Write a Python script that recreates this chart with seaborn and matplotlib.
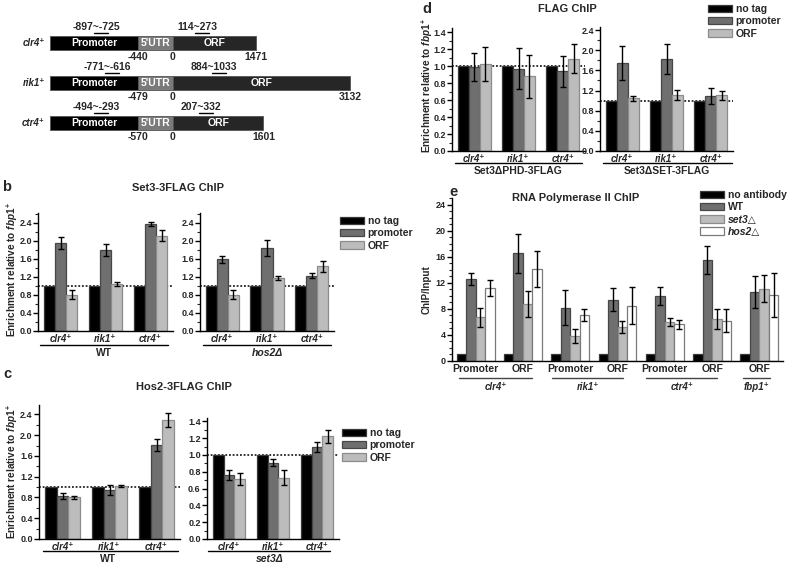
import numpy as np
import pandas as pd
import matplotlib
matplotlib.use("Agg")
import matplotlib.pyplot as plt
import seaborn as sns
from matplotlib.lines import Line2D
from matplotlib.patches import Patch
from matplotlib.ticker import MultipleLocator, FormatStrFormatter

sns.set_theme(style="ticks")
plt.rcParams['font.family'] = ['Liberation Sans', 'DejaVu Sans']
plt.rcParams['font.weight'] = 'bold'
plt.rcParams['mathtext.fontset'] = 'custom'
plt.rcParams['mathtext.it'] = 'Liberation Sans:italic:bold'
plt.rcParams['mathtext.rm'] = 'Liberation Sans:bold'
plt.rcParams['mathtext.bf'] = 'Liberation Sans:bold'

# ---------------- data ----------------
# panel a (gene schematics)
a_genes = ["clr4⁺", "rik1⁺", "ctr4⁺"]
a_utr_start = [-440, -479, -570]
a_orf_len = [1471, 3132, 1601]
a_prom_amp = ["-897~-725", "-771~-616", "-494~-293"]
a_orf_amp = ["114~273", "884~1033", "207~332"]

genes3 = ["clr4⁺", "rik1⁺", "ctr4⁺"]
series3 = ["no tag", "promoter", "ORF"]
notag = [1.0, 1.0, 1.0]

# panel b: Set3-3FLAG ChIP
b_wt_prom = [1.95, 1.80, 2.38]
b_wt_prom_err = [0.13, 0.13, 0.05]
b_wt_orf = [0.80, 1.05, 2.12]
b_wt_orf_err = [0.10, 0.04, 0.13]
b_hos2_prom = [1.59, 1.84, 1.23]
b_hos2_prom_err = [0.08, 0.18, 0.05]
b_hos2_orf = [0.81, 1.18, 1.44]
b_hos2_orf_err = [0.10, 0.05, 0.12]

# panel c: Hos2-3FLAG ChIP
c_wt_prom = [0.83, 0.94, 1.81]
c_wt_prom_err = [0.06, 0.10, 0.11]
c_wt_orf = [0.80, 1.02, 2.29]
c_wt_orf_err = [0.03, 0.02, 0.13]
c_set3_prom = [0.76, 0.91, 1.10]
c_set3_prom_err = [0.06, 0.04, 0.06]
c_set3_orf = [0.71, 0.73, 1.22]
c_set3_orf_err = [0.07, 0.09, 0.08]

# panel d: FLAG ChIP
d_phd_prom = [0.99, 0.97, 0.94]
d_phd_prom_err = [0.17, 0.24, 0.18]
d_phd_orf = [1.03, 0.88, 1.09]
d_phd_orf_err = [0.20, 0.25, 0.17]
d_set_prom = [1.75, 1.83, 1.09]
d_set_prom_err = [0.34, 0.30, 0.16]
d_set_orf = [1.05, 1.11, 1.11]
d_set_orf_err = [0.05, 0.10, 0.09]

# panel e: RNA Polymerase II ChIP
e_cats = ["clr4 Promoter", "clr4 ORF", "rik1 Promoter", "rik1 ORF",
          "ctr4 Promoter", "ctr4 ORF", "fbp1 ORF"]
e_ticklabels = ["Promoter", "ORF", "Promoter", "ORF", "Promoter", "ORF", "ORF"]
e_genes = ["clr4⁺", "rik1⁺", "ctr4⁺", "fbp1⁺"]
e_series = ["no antibody", "WT", "set3△", "hos2△"]
e_noab = [1.0, 1.0, 1.0, 1.0, 1.0, 1.0, 1.0]
e_wt = [12.6, 16.5, 8.2, 9.4, 10.0, 15.5, 10.6]
e_wt_err = [0.9, 3.0, 2.7, 1.8, 1.4, 2.1, 2.4]
e_set3 = [6.7, 8.8, 3.8, 5.2, 6.0, 6.4, 11.1]
e_set3_err = [1.5, 2.0, 1.1, 0.9, 0.6, 1.5, 2.1]
e_hos2 = [11.2, 14.1, 7.1, 8.5, 5.6, 6.2, 10.1]
e_hos2_err = [1.2, 2.7, 0.9, 2.8, 0.7, 1.8, 3.4]

# ---------------- styling ----------------
C_BLACK, C_DARK, C_LIGHT, C_WHITE = "#000000", "#6f6f6f", "#bcbcbc", "#ffffff"
E_BLACK, E_DARK, E_LIGHT, E_WHITE = "#3a3a3a", "#474747", "#8c8c8c", "#7a7a7a"
W, H = 787, 566
fig = plt.figure(figsize=(W / 100, H / 100), dpi=100)


def fx(x):
    return x / W


def fy(y):
    return 1 - y / H


def add_ax(l, t, r, b):
    return fig.add_axes([fx(l), fy(b), (r - l) / W, (b - t) / H])


def hline(x1, x2, y, lw=1.0, color="black"):
    fig.add_artist(Line2D([fx(x1), fx(x2)], [fy(y), fy(y)], color=color, lw=lw))


def ftext(x, y, s, size=7.5, ha="center", va="center", **kw):
    fig.text(fx(x), fy(y), s, fontsize=size, ha=ha, va=va, fontweight="bold", **kw)


def bar_panel(ax, cats, series, vals, errs, colors, edges, width, ylim, major, minor,
              fmt="%.1f", dotted=True, ticklabels=None, tick_italic=True):
    rows = []
    for s, v in zip(series, vals):
        for c, y in zip(cats, v):
            rows.append(dict(cat=c, series=s, val=y))
    df = pd.DataFrame(rows)
    sns.barplot(data=df, x="cat", y="val", hue="series", order=cats, hue_order=series,
                palette=dict(zip(series, colors)), width=width, errorbar=None, ax=ax,
                legend=False, saturation=1, linewidth=0.9, zorder=2)
    for cont, ec, er in zip(ax.containers, edges, errs):
        for bar, e in zip(cont, er):
            bar.set_edgecolor(ec)
            if e:
                ax.errorbar(bar.get_x() + bar.get_width() / 2, bar.get_height(), yerr=e,
                            color="black", capsize=2.5, elinewidth=1.0, capthick=1.0,
                            zorder=3)
    if dotted:
        ax.axhline(1.0, ls=(0, (1.2, 1.2)), color="black", lw=1.1, zorder=1)
    ax.set_xlim(-0.5, len(cats) - 0.5)
    ax.set_ylim(*ylim)
    ax.yaxis.set_major_locator(MultipleLocator(major))
    ax.yaxis.set_minor_locator(MultipleLocator(minor))
    ax.yaxis.set_major_formatter(FormatStrFormatter(fmt))
    for sp in ["top", "right"]:
        ax.spines[sp].set_visible(False)
    for sp in ["left", "bottom"]:
        ax.spines[sp].set_linewidth(1.0)
        ax.spines[sp].set_color("black")
    ax.tick_params(axis="y", which="major", length=3.5, width=1.0, labelsize=6.5, pad=1,
                   direction="out", color="black")
    ax.tick_params(axis="y", which="minor", length=2, width=0.8, direction="out", left=True)
    ax.tick_params(axis="x", length=0, pad=2)
    ax.set_xlabel("")
    ax.set_ylabel("")
    ax.set_facecolor("none")
    labs = ticklabels if ticklabels is not None else cats
    ax.set_xticks(range(len(cats)))
    ax.set_xticklabels(labs, fontsize=7, fontweight="bold",
                       fontstyle="italic" if tick_italic else "normal")
    for t in ax.get_yticklabels():
        t.set_fontweight("bold")


def legend(x, y, labels, colors, edges, size=7.5):
    handles = [Patch(facecolor=c, edgecolor=e, lw=0.9, label=l)
               for l, c, e in zip(labels, colors, edges)]
    leg = fig.legend(handles=handles, loc="upper left", bbox_to_anchor=(fx(x), fy(y)),
                     frameon=False, fontsize=size, handlelength=2.3, handleheight=0.75,
                     handletextpad=0.35, labelspacing=0.22, borderpad=0, borderaxespad=0)
    for t, l in zip(leg.get_texts(), labels):
        t.set_fontweight("bold")
        if "△" in l:
            t.set_fontstyle("italic")


cols3 = [C_BLACK, C_DARK, C_LIGHT]
edg3 = [E_BLACK, E_DARK, E_LIGHT]

# ---------------- panel a ----------------
axa = add_ax(0, 0, 400, 170)
axa.set_axis_off()
PX = 0.0565                     # px per bp for the ORF
PROM_W, UTR_W = 88 / PX, 35 / PX  # schematic block widths
axa.set_xlim(-173 / PX, 227 / PX)
axa.set_ylim((170 - 43) / 40, -43 / 40)
rows = np.arange(len(a_genes))
axa.barh(rows, PROM_W, left=-(UTR_W + PROM_W), height=0.36, color="black",
         edgecolor="#555555", lw=0.6)
axa.barh(rows, UTR_W, left=-UTR_W, height=0.36, color="#7a7a7a", edgecolor="#555555", lw=0.6)
axa.barh(rows, a_orf_len, left=0, height=0.36, color="#262626", edgecolor="#555555", lw=0.6)
prom_lab_px = [96, 107, 96]
orf_lab_px = [197, 214, 201]
for i in rows:
    axa.text(-(UTR_W + PROM_W) - 90, i, a_genes[i], ha="right", va="center", fontsize=7,
             fontstyle="italic", fontweight="bold")
    axa.text(-UTR_W - PROM_W / 2, i, "Promoter", color="white", ha="center", va="center",
             fontsize=7.5, fontweight="bold")
    axa.text(-UTR_W / 2, i, "5'UTR", color="white", ha="center", va="center",
             fontsize=7.5, fontweight="bold")
    axa.text(a_orf_len[i] / 2, i, "ORF", color="white", ha="center", va="center",
             fontsize=7.5, fontweight="bold")
    for xp, lab in [(prom_lab_px[i], a_prom_amp[i]), (orf_lab_px[i], a_orf_amp[i])]:
        xb = (xp - 173) / PX
        axa.text(xb, i - 0.40, lab, ha="center", va="center", fontsize=7.5,
                 fontweight="bold")
        axa.plot([xb - 2 / PX, xb + 12 / PX], [i - 0.24, i - 0.24], color="black", lw=1.0)
    axa.text(-UTR_W, i + 0.36, str(a_utr_start[i]), ha="center", va="center", fontsize=7.5,
             fontweight="bold")
    axa.text(0, i + 0.36, "0", ha="center", va="center", fontsize=7.5, fontweight="bold")
    axa.text(a_orf_len[i], i + 0.36, str(a_orf_len[i]), ha="center", va="center",
             fontsize=7.5, fontweight="bold")

# ---------------- panel b ----------------
ax_bl = add_ax(38, 213, 173, 331)
bar_panel(ax_bl, genes3, series3, [notag, b_wt_prom, b_wt_orf],
          [[0] * 3, b_wt_prom_err, b_wt_orf_err], cols3, edg3, 0.74,
          (0, 2.62), 0.4, 0.2)
ax_br = add_ax(200, 213, 334, 331)
bar_panel(ax_br, genes3, series3, [notag, b_hos2_prom, b_hos2_orf],
          [[0] * 3, b_hos2_prom_err, b_hos2_orf_err], cols3, edg3, 0.74,
          (0, 2.62), 0.4, 0.2)
hline(40, 168, 345)
ftext(104, 353, "WT")
hline(203, 331, 345)
ftext(267, 353, "hos2Δ", fontstyle="italic")
ftext(178, 188, "Set3-3FLAG ChIP", size=8)
ftext(7, 187, "b", size=10.5)
ftext(12, 270, r"Enrichment relative to $\mathit{fbp1}^{+}$", size=7.2, rotation=90)
legend(340, 216, series3, cols3, edg3)

# ---------------- panel c ----------------
ax_cl = add_ax(39, 405, 180, 539)
bar_panel(ax_cl, genes3, series3, [notag, c_wt_prom, c_wt_orf],
          [[0] * 3, c_wt_prom_err, c_wt_orf_err], cols3, edg3, 0.74,
          (0, 2.58), 0.4, 0.2)
ax_cr = add_ax(207, 418, 339, 539)
bar_panel(ax_cr, genes3, series3, [notag, c_set3_prom, c_set3_orf],
          [[0] * 3, c_set3_prom_err, c_set3_orf_err], cols3, edg3, 0.74,
          (0, 1.44), 0.2, 0.1)
hline(43, 178, 551)
ftext(108, 559, "WT")
hline(208, 330, 551)
ftext(270, 559, "set3Δ", fontstyle="italic")
ftext(184, 387, "Hos2-3FLAG ChIP", size=8)
ftext(7, 374, "c", size=10.5)
ftext(12, 472, r"Enrichment relative to $\mathit{fbp1}^{+}$", size=7.2, rotation=90)
legend(342, 428, series3, cols3, edg3)

# ---------------- panel d ----------------
ax_dl = add_ax(452, 28, 585, 151)
bar_panel(ax_dl, genes3, series3, [notag, d_phd_prom, d_phd_orf],
          [[0] * 3, d_phd_prom_err, d_phd_orf_err], cols3, edg3, 0.74,
          (0, 1.45), 0.2, 0.1)
ax_dr = add_ax(600, 27, 733, 151)
bar_panel(ax_dr, genes3, series3, [notag, d_set_prom, d_set_orf],
          [[0] * 3, d_set_prom_err, d_set_orf_err], cols3, edg3, 0.74,
          (0, 2.46), 0.4, 0.2)
hline(455, 582, 163)
ftext(518, 171, "Set3ΔPHD-3FLAG")
hline(603, 732, 163)
ftext(667, 171, "Set3ΔSET-3FLAG")
ftext(567, 9, "FLAG ChIP", size=8)
ftext(427, 9, "d", size=10.5)
ftext(427, 86, r"Enrichment relative to $\mathit{fbp1}^{+}$", size=7.2, rotation=90)
legend(708, 4, series3, cols3, edg3)

# ---------------- panel e ----------------
cols4 = [C_BLACK, C_DARK, C_LIGHT, C_WHITE]
edg4 = [E_BLACK, E_DARK, E_LIGHT, E_WHITE]
ax_e = add_ax(452, 198, 783, 361)
bar_panel(ax_e, e_cats, e_series, [e_noab, e_wt, e_set3, e_hos2],
          [[0] * 7, e_wt_err, e_set3_err, e_hos2_err], cols4, edg4, 0.8,
          (0, 25), 4, 1, fmt="%d", dotted=False, ticklabels=e_ticklabels,
          tick_italic=False)
ax_e.tick_params(axis="x", labelsize=7.5, pad=2)
for xs, xe, xc, g in [(459, 532, 496, e_genes[0]), (552, 623, 588, e_genes[1]),
                      (646, 717, 682, e_genes[2]), (743, 770, 757, e_genes[3])]:
    hline(xs, xe, 378, color="#444444")
    ftext(xc, 387, g, size=7, fontstyle="italic")
ftext(576, 198, "RNA Polymerase II ChIP", size=8)
ftext(453, 192, "e", size=10.5)
ftext(427, 290, "ChIP/Input", size=7, rotation=90)
legend(700, 190, e_series, cols4, edg4)

fig.savefig("out.png", dpi=100)
